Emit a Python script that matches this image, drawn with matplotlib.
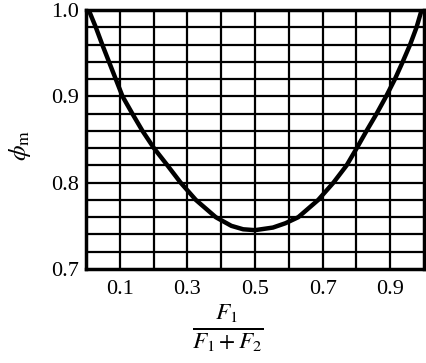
import matplotlib
matplotlib.use('Agg')
import matplotlib.pyplot as plt
import numpy as np

plt.rcParams['font.family'] = ['Liberation Serif', 'DejaVu Serif']
plt.rcParams['mathtext.fontset'] = 'stix'

# curve
ratio = [0.008, 0.029, 0.048, 0.068, 0.088, 0.108, 0.137, 0.167, 0.201, 0.241,
         0.280, 0.325, 0.384, 0.43, 0.465, 0.50, 0.553, 0.59, 0.628, 0.687,
         0.732, 0.771, 0.801, 0.830, 0.860, 0.888, 0.914, 0.937, 0.959, 0.978, 0.993]
phi_m = [1.0, 0.98, 0.96, 0.94, 0.92, 0.90, 0.88, 0.86, 0.84, 0.82,
         0.80, 0.78, 0.76, 0.750, 0.746, 0.745, 0.748, 0.753, 0.76, 0.78,
         0.80, 0.82, 0.84, 0.86, 0.88, 0.90, 0.92, 0.94, 0.96, 0.98, 1.0]

x_ticks = [0.1, 0.3, 0.5, 0.7, 0.9]
x_tick_labels = ['0.1', '0.3', '0.5', '0.7', '0.9']
y_ticks = [0.7, 0.8, 0.9, 1.0]
y_tick_labels = ['0.7', '0.8', '0.9', '1.0']

fig = plt.figure(figsize=(4.26, 3.63), dpi=100)
ax = fig.add_axes([86 / 426, 1 - 269 / 363, 338 / 426, 259 / 363])

# grid: every 0.1 across, every 0.02 up
for gx in np.arange(0.1, 1.0, 0.1):
    ax.axvline(gx, color='black', lw=1.6, zorder=1)
for gy in np.arange(0.72, 0.999, 0.02):
    ax.axhline(gy, color='black', lw=1.6, zorder=1)

ax.plot(ratio, phi_m, color='black', lw=3.2, solid_capstyle='round',
        solid_joinstyle='round', zorder=3)

ax.set_xlim(0, 1.0)
ax.set_ylim(0.7, 1.0)
ax.set_xticks(x_ticks)
ax.set_xticklabels(x_tick_labels)
ax.set_yticks(y_ticks)
ax.set_yticklabels(y_tick_labels)
ax.tick_params(length=0, labelsize=16, pad=5)
ax.tick_params(axis='x', pad=8)

for s in ax.spines.values():
    s.set_linewidth(2.5)

fig.text(20 / 426, 1 - 145 / 363, r'$\phi_{\rm m}$', rotation=90,
         fontsize=18, ha='center', va='center')
fig.text(228 / 426, 1 - 328 / 363, r'$\frac{F_1}{F_1+F_2}$',
         fontsize=24, ha='center', va='center')

fig.savefig('out.png', dpi=100)
